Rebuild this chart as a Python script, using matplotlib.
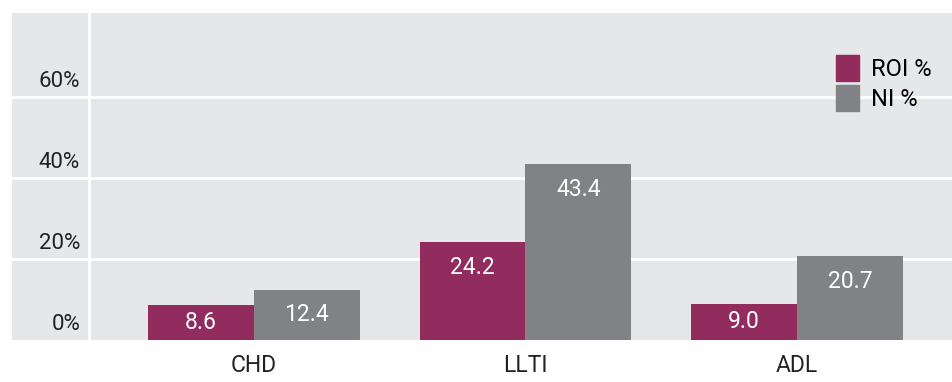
import numpy as np
import matplotlib.pyplot as plt
from matplotlib.patches import Patch

# Data
categories = ['CHD', 'LLTI', 'ADL']
roi = [8.6, 24.2, 9.0]
ni = [12.4, 43.4, 20.7]
yticks = [0, 20, 40, 60]
series_names = ['ROI %', 'NI %']

c_roi = '#922b5e'
c_ni = '#808285'
bg = '#e6e7e9'

plt.rcParams['font.family'] = ['Roboto', 'DejaVu Sans']

fig = plt.figure(figsize=(9.53, 3.82), dpi=100)
ax = fig.add_axes([12 / 953, 42 / 382, 941 / 953, 327 / 382])
ax.set_facecolor(bg)

x = np.arange(len(categories))
w = 0.39
ax.set_xlim(-0.891, 2.575)
ax.set_ylim(0, 80.8)

# white grid + y-axis line
for t in yticks[1:]:
    ax.axhline(t, color='white', lw=2, zorder=1)
ax.axvline(-0.608, color='white', lw=2, zorder=1)

b1 = ax.bar(x - w / 2, roi, w, color=c_roi, zorder=2)
b2 = ax.bar(x + w / 2, ni, w, color=c_ni, zorder=2)

# value labels inside bars
px_per_unit = 327 / 80.8
for bars, vals in ((b1, roi), (b2, ni)):
    for b, v in zip(bars, vals):
        yc = max(v - 25 / px_per_unit, v / 2)
        ax.text(b.get_x() + b.get_width() / 2, yc, f'{v:.1f}', color='white',
                ha='center', va='center', fontsize=16.5, zorder=3)

# y labels sit just above gridlines
for t in yticks:
    ax.text(-0.64, t + 1.2, f'{t}%', ha='right', va='bottom', fontsize=16,
            color='#222222')

# category labels
for xi, c in zip(x, categories):
    ax.text(xi, -6.3, c, ha='center', va='center', fontsize=16.5, color='#222222',
            clip_on=False)

ax.set_xticks([])
ax.set_yticks([])
for s in ax.spines.values():
    s.set_visible(False)

handles = [Patch(color=c_roi), Patch(color=c_ni)]
ax.legend(handles, series_names, loc='upper right', bbox_to_anchor=(0.997, 0.93),
          frameon=False, fontsize=17, handlelength=0.95, handleheight=1.3,
          handletextpad=0.5, labelspacing=0.2, borderpad=0.3)

fig.savefig('out.png', dpi=100)
